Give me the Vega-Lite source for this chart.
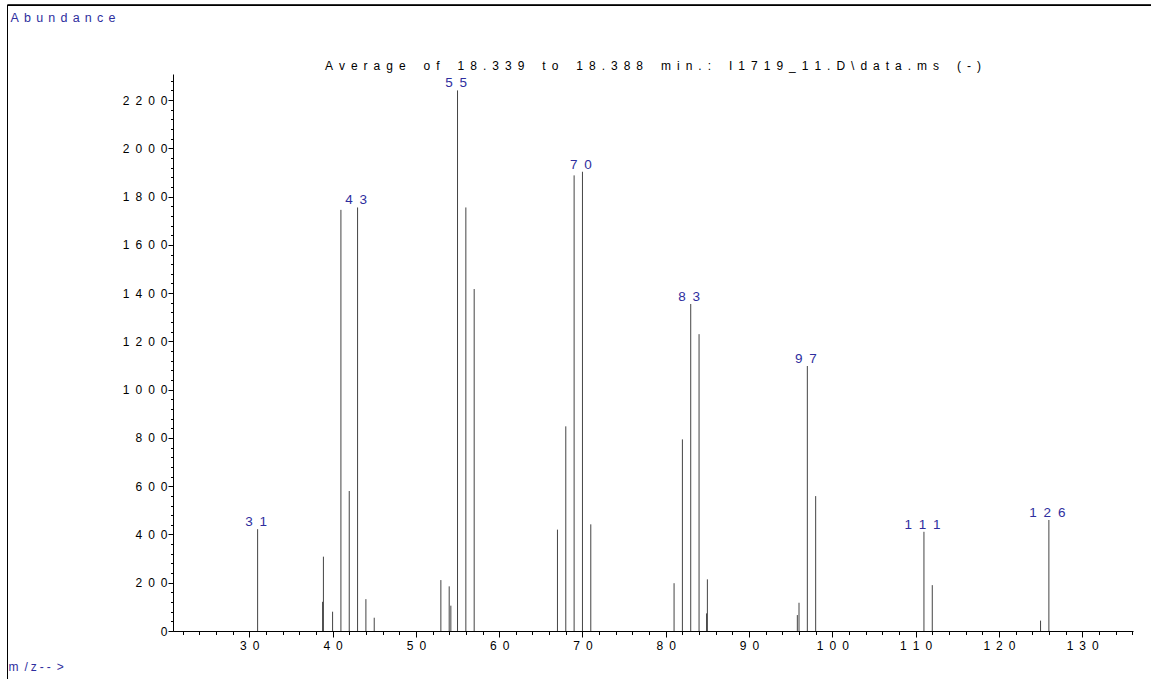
{
  "$schema": "https://vega.github.io/schema/vega-lite/v6.json",
  "width": 960,
  "height": 557,
  "autosize": "none",
  "padding": {"left": 173, "top": 74, "right": 18, "bottom": 48},
  "background": "white",
  "title": {
    "text": "A\u2002v\u2002e\u2002r\u2002a\u2002g\u2002e\u2002\u2002\u2002o\u2002f\u2002\u2002\u20021\u20028\u2002.\u20023\u20023\u20029\u2002\u2002\u2002t\u2002o\u2002\u2002\u20021\u20028\u2002.\u20023\u20028\u20028\u2002\u2002\u2002m\u2002i\u2002n\u2002.\u2002:\u2002\u2002\u2002I\u20021\u20027\u20021\u20029\u2002_\u20021\u20021\u2002.\u2002D\u2002\\\u2002d\u2002a\u2002t\u2002a\u2002.\u2002m\u2002s\u2002\u2002\u2002(\u2002-\u2002)",
    "anchor": "middle",
    "frame": "group",
    "offset": 0,
    "dy": 77,
    "baseline": "alphabetic",
    "font": "Liberation Sans",
    "fontSize": 12,
    "fontWeight": "normal",
    "color": "#000000"
  },
  "data": {
    "values": [
      {"mz": 31, "ab": 422, "label": "31"},
      {"mz": 38.8, "ab": 121, "label": ""},
      {"mz": 38.9, "ab": 308, "label": ""},
      {"mz": 40, "ab": 80, "label": ""},
      {"mz": 41, "ab": 1745, "label": ""},
      {"mz": 42, "ab": 580, "label": ""},
      {"mz": 43, "ab": 1755, "label": "43"},
      {"mz": 44, "ab": 132, "label": ""},
      {"mz": 45, "ab": 55, "label": ""},
      {"mz": 53, "ab": 211, "label": ""},
      {"mz": 54, "ab": 185, "label": ""},
      {"mz": 54.2, "ab": 105, "label": ""},
      {"mz": 55, "ab": 2240, "label": "55"},
      {"mz": 56, "ab": 1755, "label": ""},
      {"mz": 57, "ab": 1417, "label": ""},
      {"mz": 67, "ab": 420, "label": ""},
      {"mz": 68, "ab": 848, "label": ""},
      {"mz": 69, "ab": 1888, "label": ""},
      {"mz": 70, "ab": 1903, "label": "70"},
      {"mz": 71, "ab": 442, "label": ""},
      {"mz": 81, "ab": 198, "label": ""},
      {"mz": 82, "ab": 794, "label": ""},
      {"mz": 83, "ab": 1355, "label": "83"},
      {"mz": 84, "ab": 1230, "label": ""},
      {"mz": 84.9, "ab": 73, "label": ""},
      {"mz": 85, "ab": 214, "label": ""},
      {"mz": 95.8, "ab": 66, "label": ""},
      {"mz": 96, "ab": 117, "label": ""},
      {"mz": 97, "ab": 1098, "label": "97"},
      {"mz": 98, "ab": 559, "label": ""},
      {"mz": 111, "ab": 411, "label": "111"},
      {"mz": 112, "ab": 190, "label": ""},
      {"mz": 125, "ab": 43, "label": ""},
      {"mz": 126, "ab": 460, "label": "126"}
    ]
  },
  "layer": [
    {
      "mark": {"type": "rule", "stroke": "#444444", "strokeWidth": 1},
      "encoding": {
        "x": {
          "field": "mz", "type": "quantitative",
          "scale": {"domain": [20.84, 136.1], "nice": false, "zero": false},
          "axis": {
            "orient": "bottom",
            "values": [30, 40, 50, 60, 70, 80, 90, 100, 110, 120, 130],
            "format": "d",
            "labelExpr": "join(split(datum.label, ''), '\u2002') + '\u2002'",
            "tickSize": 6,
            "labelPadding": 3,
            "labelFontSize": 12,
            "title": "m\u2002/\u2005z\u2005-\u2005-\u2002>",
            "titleX": -165,
            "titleY": 39,
            "titleAlign": "left",
            "titleAnchor": null,
            "titleBaseline": "alphabetic",
            "titleColor": "#2e2e9e",
            "titleFontSize": 12,
            "titleFontWeight": "normal",
            "titleFont": "Liberation Sans"
          }
        },
        "y": {
          "field": "ab", "type": "quantitative",
          "scale": {"domain": [0, 2308], "nice": false},
          "axis": {
            "orient": "left",
            "values": [0, 200, 400, 600, 800, 1000, 1200, 1400, 1600, 1800, 2000, 2200],
            "format": "d",
            "labelExpr": "join(split(datum.label, ''), '\u2002') + '\u2002'",
            "tickSize": 5,
            "labelPadding": 1,
            "labelFontSize": 12,
            "labelBaseline": "middle",
            "title": "A\u2005\u2006b\u2005\u2006u\u2005\u2006n\u2005\u2006d\u2005\u2006a\u2005\u2006n\u2005\u2006c\u2005\u2006e",
            "titleAngle": 0,
            "titleX": -163,
            "titleY": -53,
            "titleAlign": "left",
            "titleAnchor": null,
            "titleBaseline": "alphabetic",
            "titleColor": "#2e2e9e",
            "titleFontSize": 12.5,
            "titleFontWeight": "normal",
            "titleFont": "Liberation Sans"
          }
        },
        "y2": {"datum": 0}
      }
    },
    {
      "transform": [
        {"filter": "datum.label != ''"},
        {"calculate": "join(split(datum.label, ''), '\u2002') + '\u2002'", "as": "lbl"}
      ],
      "mark": {"type": "text", "align": "center", "baseline": "alphabetic", "dy": -3, "dx": -1.5, "font": "Liberation Sans", "fontSize": 13.5, "color": "#2e2e9e"},
      "encoding": {
        "x": {
          "field": "mz", "type": "quantitative",
          "scale": {"domain": [20.84, 136.1], "nice": false, "zero": false},
          "axis": {
            "orient": "bottom",
            "values": [22, 24, 26, 28, 30, 32, 34, 36, 38, 40, 42, 44, 46, 48, 50, 52, 54, 56, 58, 60, 62, 64, 66, 68, 70, 72, 74, 76, 78, 80, 82, 84, 86, 88, 90, 92, 94, 96, 98, 100, 102, 104, 106, 108, 110, 112, 114, 116, 118, 120, 122, 124, 126, 128, 130, 132, 134, 136],
            "tickSize": 3.5,
            "labels": false,
            "domain": false,
            "title": null
          }
        },
        "y": {
          "field": "ab", "type": "quantitative",
          "scale": {"domain": [0, 2308], "nice": false},
          "axis": {
            "orient": "left",
            "values": [0, 40, 80, 120, 160, 200, 240, 280, 320, 360, 400, 440, 480, 520, 560, 600, 640, 680, 720, 760, 800, 840, 880, 920, 960, 1000, 1040, 1080, 1120, 1160, 1200, 1240, 1280, 1320, 1360, 1400, 1440, 1480, 1520, 1560, 1600, 1640, 1680, 1720, 1760, 1800, 1840, 1880, 1920, 1960, 2000, 2040, 2080, 2120, 2160, 2200, 2240, 2280],
            "tickSize": 2.5,
            "labels": false,
            "domain": false,
            "title": null
          }
        },
        "text": {"field": "lbl"}
      }
    },
    {
      "mark": {"type": "rule", "stroke": "#000000", "strokeWidth": 1},
      "encoding": {
        "x": {"datum": 0.97, "type": "quantitative", "scale": {"domain": [20.84, 136.1], "nice": false, "zero": false}, "axis": null},
        "y": {"datum": -210, "type": "quantitative", "scale": {"domain": [0, 2308], "nice": false}, "axis": null},
        "y2": {"datum": 2592}
      }
    },
    {
      "mark": {"type": "rule", "stroke": "#000000", "strokeWidth": 1},
      "encoding": {
        "x": {"datum": 0.97, "type": "quantitative", "scale": {"domain": [20.84, 136.1], "nice": false, "zero": false}, "axis": null},
        "x2": {"datum": 140},
        "y": {"datum": 2592, "type": "quantitative", "scale": {"domain": [0, 2308], "nice": false}, "axis": null}
      }
    }
  ],
  "resolve": {"axis": {"x": "independent", "y": "independent"}},
  "config": {
    "view": {"stroke": null},
    "axis": {
      "grid": false,
      "domainColor": "#000000",
      "domainWidth": 1,
      "tickColor": "#000000",
      "tickWidth": 1,
      "labelColor": "#000000",
      "labelFont": "Liberation Sans",
      "labelFontSize": 12
    }
  }
}
